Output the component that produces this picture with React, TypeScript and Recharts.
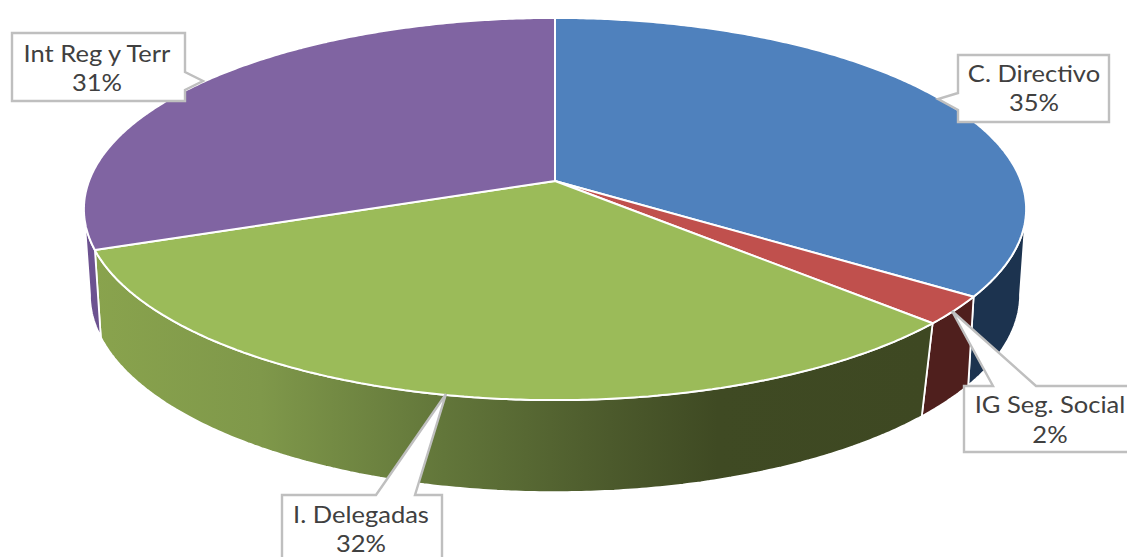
import React from 'react';
import { PieChart, Pie } from 'recharts';

const categories = ['C. Directivo', 'IG Seg. Social', 'I. Delegadas', 'Int Reg y Terr'];
const shares = [34.6, 2.4, 32.3, 30.7];
const chartData = categories.map((name, i) => ({ name, value: shares[i] }));

const topColors: Record<string, string> = {
  'C. Directivo': '#4f81bd',
  'IG Seg. Social': '#c0504d',
  'I. Delegadas': '#9bbb59',
  'Int Reg y Terr': '#8064a2',
};
const wallColors: Record<string, string> = {
  'C. Directivo': '#1c334f',
  'IG Seg. Social': '#4f1f1d',
  'I. Delegadas': 'url(#greenWall)',
  'Int Reg y Terr': '#6c5290',
};

type Callout = { box: number[]; tail: number[][]; textX: number; lines: number[] };
const callouts: Record<string, Callout> = {
  'C. Directivo': {
    box: [958, 55, 1109, 122],
    tail: [[958, 93], [938, 99], [958, 110]],
    textX: 1034,
    lines: [82, 111],
  },
  'IG Seg. Social': {
    box: [964, 386, 1140, 452],
    tail: [[993, 386], [952, 311], [1036, 386]],
    textX: 1050,
    lines: [413, 443],
  },
  'I. Delegadas': {
    box: [282, 495, 442, 575],
    tail: [[376, 495], [446, 394], [415, 495]],
    textX: 361,
    lines: [523, 552],
  },
  'Int Reg y Terr': {
    box: [12, 33, 185, 101],
    tail: [[185, 72], [203, 81], [185, 90]],
    textX: 97,
    lines: [62, 91],
  },
};

const TILT = 187 / 466;
const PERSPECTIVE = 0.1467;
const LOWER_CY = 266;
const LOWER_R = 460;
const LOWER_TILT = 193 / 460;
// the front part of the disc lies between the two silhouette angles
const SIL_RIGHT = (Math.acos(-PERSPECTIVE) * 180) / Math.PI;
const SIL_LEFT = 360 - SIL_RIGHT;
// the lower rim's edge on the front right leans inward slightly
const lowerAngle = (t: number) => (t > 130 && t < 180 ? t + 1.1 : t);

function ringPoint(cx: number, cy: number, r: number, tilt: number, theta: number) {
  const a = (theta * Math.PI) / 180;
  const u = Math.sin(a);
  const v = Math.cos(a);
  const w = 1 + PERSPECTIVE * v;
  return [cx + (r * u) / w, cy - (r * tilt * v) / w];
}

function arc(cx: number, cy: number, r: number, tilt: number, t1: number, t2: number) {
  const steps = Math.max(2, Math.ceil(Math.abs(t2 - t1) * 2));
  const pts: number[][] = [];
  for (let i = 0; i <= steps; i++) {
    pts.push(ringPoint(cx, cy, r, tilt, t1 + ((t2 - t1) * i) / steps));
  }
  return pts;
}

const toPath = (pts: number[][]) =>
  'M' + pts.map((p) => `${p[0].toFixed(1)},${p[1].toFixed(1)}`).join('L') + 'Z';

function TopFace(props: any) {
  const { cx, cy, outerRadius, startAngle, endAngle, name } = props;
  const pts = [[cx, cy], ...arc(cx, cy, outerRadius, TILT, 90 - startAngle, 90 - endAngle)];
  return <path d={toPath(pts)} fill={topColors[name]} stroke="#ffffff" strokeWidth={2} strokeLinejoin="round" />;
}

function WallFace(props: any) {
  const { cx, cy, outerRadius, startAngle, endAngle, name } = props;
  const t1 = Math.max(90 - startAngle, SIL_RIGHT);
  const t2 = Math.min(90 - endAngle, SIL_LEFT);
  if (t2 <= t1) return <g />;
  const upper = arc(cx, cy, outerRadius, TILT, t1, t2);
  const lower = arc(cx, LOWER_CY, LOWER_R, LOWER_TILT, lowerAngle(t2), lowerAngle(t1));
  return <path d={toPath([...upper, ...lower])} fill={wallColors[name]} stroke="#ffffff" strokeWidth={1.8} strokeLinejoin="round" />;
}

const FONT = "Lato, 'Open Sans', sans-serif";

function CalloutLabel(props: any) {
  const { name, percent } = props;
  const c = callouts[name];
  const [x0, y0, x1, y1] = c.box;
  const onLeft = c.tail[0][0] === x0 && c.tail[2][0] === x0;
  const onRight = c.tail[0][0] === x1 && c.tail[2][0] === x1;
  const [a, b, d] = c.tail;
  const pts: number[][] = [];
  if (onLeft) {
    pts.push([x0, y0], [x1, y0], [x1, y1], [x0, y1], d, b, a);
  } else if (onRight) {
    pts.push([x0, y0], [x1, y0], a, b, d, [x1, y1], [x0, y1]);
  } else {
    pts.push([x0, y0], a, b, d, [x1, y0], [x1, y1], [x0, y1]);
  }
  return (
    <g>
      <path d={toPath(pts)} fill="#ffffff" stroke="#bfbfbf" strokeWidth={2.4} strokeLinejoin="miter" />
      <text transform={`translate(${c.textX},${c.lines[0]}) scale(1.11,1)`} textAnchor="middle" fontFamily={FONT} fontSize={23} fill="#404040">
        {name}
      </text>
      <text transform={`translate(${c.textX},${c.lines[1]}) scale(1.11,1)`} textAnchor="middle" fontFamily={FONT} fontSize={23} fill="#404040">
        {Math.round(percent * 100)}%
      </text>
    </g>
  );
}

export default function App() {
  return (
    <div style={{ position: 'fixed', left: 0, top: 0, width: 1127, height: 557, background: '#ffffff' }}>
      <PieChart width={1127} height={557} margin={{ top: 0, right: 0, bottom: 0, left: 0 }}>
        <defs>
          <linearGradient id="greenWall" gradientUnits="userSpaceOnUse" x1={95} y1={0} x2={925} y2={0}>
            <stop offset="0" stopColor="#89a34d" />
            <stop offset="0.2" stopColor="#7f984a" />
            <stop offset="0.42" stopColor="#62763a" />
            <stop offset="0.62" stopColor="#4c5a2c" />
            <stop offset="0.75" stopColor="#3f4a23" />
            <stop offset="1" stopColor="#3e4822" />
          </linearGradient>
        </defs>
        <Pie
          data={chartData}
          dataKey="value"
          nameKey="name"
          cx={555}
          cy={181}
          innerRadius={0}
          outerRadius={466}
          startAngle={90}
          endAngle={-270}
          isAnimationActive={false}
          shape={WallFace}
          label={false}
          labelLine={false}
        />
        <Pie
          data={chartData}
          dataKey="value"
          nameKey="name"
          cx={555}
          cy={181}
          innerRadius={0}
          outerRadius={466}
          startAngle={90}
          endAngle={-270}
          isAnimationActive={false}
          shape={TopFace}
          label={CalloutLabel}
          labelLine={false}
        />
      </PieChart>
    </div>
  );
}
